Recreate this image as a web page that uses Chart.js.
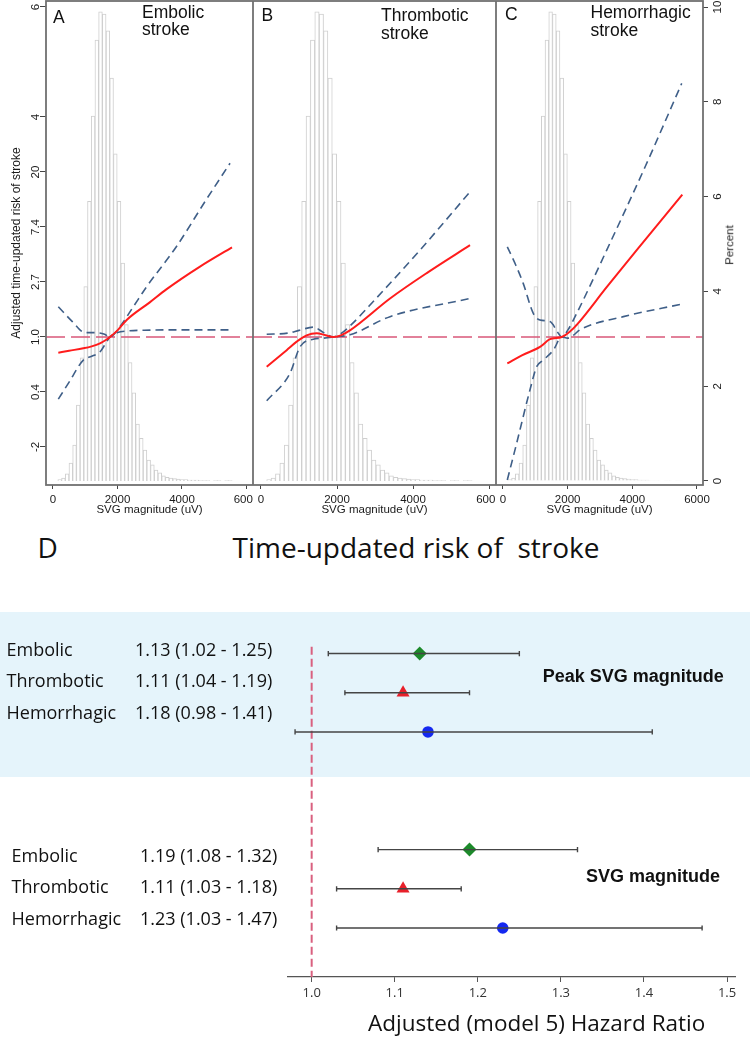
<!DOCTYPE html>
<html>
<head>
<meta charset="utf-8">
<script src="https://cdn.jsdelivr.net/npm/chart.js@4.4.0/dist/chart.umd.min.js"></script>
<style>
html,body{margin:0;padding:0;background:#ffffff;}
#root{position:relative;width:750px;height:1038px;overflow:hidden;background:#fff;}
.abs{position:absolute;}
canvas{display:block;}
.t{position:absolute;white-space:pre;line-height:1;color:#111;}
.ar{font-family:'Liberation Sans',Arial,sans-serif;}
.os{font-family:'Open Sans','Noto Sans',sans-serif;}
</style>
</head>
<body>
<div id="root">
  <div class="abs" style="left:0;top:612px;width:750px;height:165px;background:#e5f4fb;"></div>

  <canvas id="cA" class="abs" width="253" height="517" style="left:0;top:0;"></canvas>
  <canvas id="cB" class="abs" width="243" height="517" style="left:253px;top:0;"></canvas>
  <canvas id="cC" class="abs" width="254" height="517" style="left:496px;top:0;"></canvas>
  <canvas id="cD" class="abs" width="750" height="438" style="left:0;top:600px;"></canvas>

  <!-- panel titles -->
  <div class="t ar" style="left:53px;top:8.5px;font-size:17.5px;">A</div>
  <div class="t ar" style="left:142px;top:3.5px;font-size:17.5px;">Embolic</div>
  <div class="t ar" style="left:142px;top:21.2px;font-size:17.5px;">stroke</div>
  <div class="t ar" style="left:261.5px;top:6.9px;font-size:17.5px;">B</div>
  <div class="t ar" style="left:381px;top:6.9px;font-size:17.5px;">Thrombotic</div>
  <div class="t ar" style="left:381px;top:24.5px;font-size:17.5px;">stroke</div>
  <div class="t ar" style="left:505px;top:5.9px;font-size:17.5px;">C</div>
  <div class="t ar" style="left:590.5px;top:3.5px;font-size:17.5px;">Hemorrhagic</div>
  <div class="t ar" style="left:590.5px;top:21.9px;font-size:17.5px;">stroke</div>
  <div class="t ar" style="left:730px;top:245px;font-size:11.5px;color:#222;transform:translate(-50%,-50%) rotate(-90deg);">Percent</div>

  <!-- forest texts -->
  <div class="t os" style="left:37.5px;top:533px;font-size:28px;">D</div>
  <div class="t os" style="left:232.5px;top:533px;font-size:28px;">Time-updated risk of  stroke</div>
  <div id="forestText"></div>
  <div class="t ar" style="left:542.7px;top:666.5px;font-size:18px;font-weight:bold;">Peak SVG magnitude</div>
  <div class="t ar" style="left:586px;top:866.5px;font-size:18px;font-weight:bold;">SVG magnitude</div>
  <div class="t os" style="left:368px;top:1011.7px;font-size:22.5px;">Adjusted (model 5) Hazard Ratio</div>
</div>

<script>
// ================= DATA =================
// Panels A-C: x in SVG magnitude (uV); curve values are ln(hazard ratio) (axis is log-HR)
const X_TICKS = [0, 2000, 4000, 6000];
const HR_TICK_VALUES = [-2, -1, 0, 1, 2, 3, 4, 6];
const HR_TICK_LABELS = ['-2', '0.4', '1.0', '2.7', '7.4', '20', '4', '6'];
const PCT_TICKS = [0, 2, 4, 6, 8, 10];
const REF_LNHR = 0; // HR = 1.0

// Histogram of SVG magnitude (percent per bin), bin centers in uV
const HIST_BIN_CENTERS = [208, 323, 438, 553, 668, 783, 898, 1013, 1128, 1243, 1358, 1473, 1588, 1703, 1818, 1933,
  2048, 2163, 2278, 2393, 2508, 2623, 2738, 2853, 2968, 3083, 3198, 3313, 3428, 3543, 3658, 3773, 3888, 4003,
  4118, 4233, 4348, 4463, 4578, 4693, 4808, 4923, 5038, 5153, 5268, 5383, 5498];
const HIST_PERCENT = [0.03, 0.06, 0.15, 0.38, 0.76, 1.6, 2.6, 4.1, 5.9, 7.7, 9.3, 9.9, 9.85, 9.5, 8.5, 6.9,
  5.9, 4.6, 3.3, 2.5, 1.86, 1.2, 0.9, 0.65, 0.44, 0.34, 0.23, 0.17, 0.11, 0.08, 0.06, 0.05, 0.04, 0.03,
  0.03, 0.02, 0.02, 0.02, 0.01, 0.01, 0.01, 0, 0.01, 0.01, 0, 0.01, 0.01];

// Panel A - Embolic stroke
const A_FIT_X = [165, 500, 940, 1200, 1457, 1650, 1767, 2000, 2285, 3000, 3525, 4558, 5550];
const A_FIT_LNHR = [-0.285, -0.25, -0.206, -0.17, -0.115, -0.05, 0, 0.12, 0.31, 0.63, 0.87, 1.28, 1.63];
const A_UP_X = [165, 600, 1000, 1300, 1600, 1767, 2078, 2490, 2905, 3835, 4700, 5490];
const A_UP_LNHR = [0.55, 0.28, 0.08, 0.08, 0.05, 0, 0.19, 0.55, 0.915, 1.65, 2.45, 3.16];
const A_LO_X = [165, 500, 940, 1200, 1457, 1650, 1767, 2000, 2300, 3000, 4000, 5540];
const A_LO_LNHR = [-1.13, -0.82, -0.42, -0.35, -0.27, -0.1, 0, 0.08, 0.11, 0.125, 0.13, 0.13];

// Panel B - Thrombotic stroke
const B_FIT_X = [150, 675, 940, 1200, 1465, 1700, 1900, 2100, 2340, 3395, 4400, 5500];
const B_FIT_LNHR = [-0.54, -0.24, -0.085, 0.03, 0.07, 0.03, 0, 0.03, 0.12, 0.7, 1.18, 1.67];
const B_UP_X = [150, 700, 1000, 1376, 1650, 1900, 2100, 2340, 3000, 4184, 5526];
const B_UP_LNHR = [0.05, 0.07, 0.12, 0.18, 0.08, 0, 0.06, 0.2, 0.68, 1.58, 2.66];
const B_LO_X = [150, 763, 1026, 1376, 1650, 1900, 2340, 3395, 5500];
const B_LO_LNHR = [-1.16, -0.66, -0.18, -0.04, -0.02, 0, 0.04, 0.37, 0.70];

// Panel C - Hemorrhagic stroke
const C_FIT_X = [133, 600, 1144, 1454, 1815, 2072, 2280, 3200, 4135, 5546];
const C_FIT_LNHR = [-0.48, -0.33, -0.18, -0.04, 0, 0.1, 0.22, 0.9, 1.58, 2.59];
const C_UP_X = [133, 400, 628, 937, 1144, 1454, 1711, 1815, 2000, 2280, 3208, 4400, 5528];
const C_UP_LNHR = [1.64, 1.3, 0.97, 0.43, 0.31, 0.28, 0.07, 0, 0.12, 0.43, 1.58, 3.1, 4.61];
const C_LO_X = [133, 423, 835, 1041, 1247, 1556, 1815, 2000, 2150, 2382, 3723, 5550];
const C_LO_LNHR = [-2.6, -1.93, -0.96, -0.54, -0.42, -0.24, 0, -0.02, 0.02, 0.13, 0.37, 0.6];

// Panel D - forest plot
const FOREST_NAMES = ['Embolic', 'Thrombotic', 'Hemorrhagic'];
const PEAK_HR = [1.13, 1.11, 1.14];      // marker positions as drawn
const PEAK_LO = [1.02, 1.04, 0.98];
const PEAK_HI = [1.25, 1.19, 1.41];
const PEAK_TEXT = ['1.13 (1.02 - 1.25)', '1.11 (1.04 - 1.19)', '1.18 (0.98 - 1.41)'];
const SVG_HR = [1.19, 1.11, 1.23];
const SVG_LO = [1.08, 1.03, 1.03];
const SVG_HI = [1.32, 1.18, 1.47];
const SVG_TEXT = ['1.19 (1.08 - 1.32)', '1.11 (1.03 - 1.18)', '1.23 (1.03 - 1.47)'];
const PEAK_ROWS = [0, 1, 2];
const SVG_ROWS = [5, 6, 7];
const FOREST_TICKS = [1.0, 1.1, 1.2, 1.3, 1.4, 1.5];
const HR_REF = 1.0;

// ================= STYLE / LAYOUT =================
const SANS = "'Liberation Sans', Arial, sans-serif";
const OPEN = "'Open Sans', 'Noto Sans', sans-serif";
const CI_COLOR = '#3f5f88';
const FIT_COLOR = '#ff1c1c';
const REF_COLOR = '#d9587a';
const FRAME_COLOR = '#707070';
const HR_MIN = -2.691, HR_MAX = 6.109;
const PCT_MIN = -0.0844, PCT_MAX = 10.127;

const zip = (xs, ys) => xs.map((x, i) => ({x: x, y: ys[i]}));

const framePlugin = {
  id: 'frame',
  afterDatasetsDraw(chart) {
    const ctx = chart.ctx, a = chart.chartArea;
    ctx.save();
    ctx.strokeStyle = FRAME_COLOR;
    ctx.lineWidth = 1.8;
    ctx.strokeRect(a.left, a.top, a.right - a.left, a.bottom - a.top);
    ctx.restore();
  }
};

function panel(id, p) {
  return new Chart(document.getElementById(id), {
    type: 'bar',
    data: {
      datasets: [
        {type: 'line', data: zip(p.fitX, p.fitY), yAxisID: 'hr', borderColor: FIT_COLOR, borderWidth: 2,
         pointRadius: 0, cubicInterpolationMode: 'monotone', order: 1},
        {type: 'line', data: zip(p.upX, p.upY), yAxisID: 'hr', borderColor: CI_COLOR, borderWidth: 1.6,
         borderDash: [8, 5], pointRadius: 0, cubicInterpolationMode: 'monotone', order: 2},
        {type: 'line', data: zip(p.loX, p.loY), yAxisID: 'hr', borderColor: CI_COLOR, borderWidth: 1.6,
         borderDash: [8, 5], pointRadius: 0, cubicInterpolationMode: 'monotone', order: 3},
        {type: 'line', data: [{x: p.xmin, y: REF_LNHR}, {x: p.xmax, y: REF_LNHR}], yAxisID: 'hr',
         borderColor: REF_COLOR, borderWidth: 1.5, borderDash: [19, 6], pointRadius: 0, order: 4},
        {type: 'bar', data: zip(HIST_BIN_CENTERS, HIST_PERCENT), yAxisID: 'pct', backgroundColor: '#ffffff',
         borderColor: '#cfcfcf', borderWidth: 1, barPercentage: 1, categoryPercentage: 1, order: 5}
      ]
    },
    options: {
      responsive: false, animation: false, events: [], devicePixelRatio: 1,
      layout: {padding: {left: 0, right: 0, top: 1, bottom: 0}},
      plugins: {legend: {display: false}, tooltip: {enabled: false}},
      scales: {
        x: {
          type: 'linear', min: p.xmin, max: p.xmax, offset: false,
          grid: {display: true, drawOnChartArea: false, drawTicks: true, tickLength: 4, tickColor: '#444', offset: false},
          border: {display: false},
          ticks: {autoSkip: false, maxRotation: 0, padding: 4, color: '#1a1a1a',
                  font: {family: SANS, size: 11.5}, callback: (v) => String(v)},
          title: {display: true, text: 'SVG magnitude (uV)', color: '#1a1a1a',
                  font: {family: SANS, size: 11.5}, padding: {top: 0, bottom: 0}},
          afterBuildTicks: (s) => { s.ticks = X_TICKS.map(v => ({value: v})); },
          afterFit: (s) => { s.height = 32; s.paddingLeft = 0; s.paddingRight = 0; }
        },
        hr: {
          type: 'linear', position: 'left', display: !!p.showHr, min: HR_MIN, max: HR_MAX,
          grid: {display: true, drawOnChartArea: false, drawTicks: true, tickLength: 6, tickColor: '#444'},
          border: {display: false},
          ticks: {autoSkip: false, minRotation: 90, maxRotation: 90, crossAlign: 'center', padding: -3.5,
                  color: '#1a1a1a', font: {family: SANS, size: 11.5},
                  callback: (v, i) => HR_TICK_LABELS[i]},
          title: {display: true, text: 'Adjusted time-updated risk of stroke', color: '#1a1a1a',
                  font: {family: SANS, size: 12}, padding: {top: 9, bottom: 0}},
          afterBuildTicks: (s) => { s.ticks = HR_TICK_VALUES.map(v => ({value: v})); },
          afterFit: (s) => { if (p.showHr) s.width = 46; s.paddingTop = 0; s.paddingBottom = 0; }
        },
        pct: {
          type: 'linear', position: 'right', display: !!p.showPct, min: PCT_MIN, max: PCT_MAX,
          grid: {display: true, drawOnChartArea: false, drawTicks: true, tickLength: 5, tickColor: '#444'},
          border: {display: false},
          ticks: {autoSkip: false, minRotation: 90, maxRotation: 90, crossAlign: 'center', padding: 3,
                  color: '#1a1a1a', font: {family: SANS, size: 11.5}, callback: (v) => String(v)},
          afterBuildTicks: (s) => { s.ticks = PCT_TICKS.map(v => ({value: v})); },
          afterFit: (s) => { if (p.showPct) s.width = 47; s.paddingTop = 0; s.paddingBottom = 0; }
        }
      }
    },
    plugins: [framePlugin]
  });
}

panel('cA', {xmin: -217, xmax: 6202, showHr: true, showPct: false,
  fitX: A_FIT_X, fitY: A_FIT_LNHR, upX: A_UP_X, upY: A_UP_LNHR, loX: A_LO_X, loY: A_LO_LNHR});
panel('cB', {xmin: -210.5, xmax: 6184, showHr: false, showPct: false,
  fitX: B_FIT_X, fitY: B_FIT_LNHR, upX: B_UP_X, upY: B_UP_LNHR, loX: B_LO_X, loY: B_LO_LNHR});
panel('cC', {xmin: -216.5, xmax: 6186, showHr: false, showPct: true,
  fitX: C_FIT_X, fitY: C_FIT_LNHR, upX: C_UP_X, upY: C_UP_LNHR, loX: C_LO_X, loY: C_LO_LNHR});

// ---------- forest text ----------
(function () {
  const host = document.getElementById('forestText');
  const rows = [
    {names: FOREST_NAMES, texts: PEAK_TEXT, tops: [640, 671.3, 703.3], nameLeft: 6.5, valLeft: 135},
    {names: FOREST_NAMES, texts: SVG_TEXT, tops: [845.7, 877.3, 909], nameLeft: 11.5, valLeft: 140}
  ];
  rows.forEach(sec => {
    sec.names.forEach((n, i) => {
      const a = document.createElement('div');
      a.className = 't os'; a.style.left = sec.nameLeft + 'px'; a.style.top = sec.tops[i] + 'px';
      a.style.fontSize = '18px'; a.textContent = n; host.appendChild(a);
      const b = document.createElement('div');
      b.className = 't os'; b.style.left = sec.valLeft + 'px'; b.style.top = sec.tops[i] + 'px';
      b.style.fontSize = '18px'; b.textContent = sec.texts[i]; host.appendChild(b);
    });
  });
})();

// ---------- forest chart ----------
const FY_MIN = -1.175, FY_MAX = 8.25, REF_TOP = -0.175;
const MARK_STYLE = ['rectRot', 'triangle', 'circle'];
const MARK_COLOR = ['#1c8a2a', '#e8202a', '#1428f0'];
const MARK_RADIUS = [7, 7.5, 5.8];

const barDs = [];
PEAK_ROWS.forEach((r, i) => barDs.push({lo: PEAK_LO[i], hi: PEAK_HI[i], y: r}));
SVG_ROWS.forEach((r, i) => barDs.push({lo: SVG_LO[i], hi: SVG_HI[i], y: r}));

new Chart(document.getElementById('cD'), {
  type: 'scatter',
  data: {
    datasets: [
      ...barDs.map(b => ({type: 'line', data: [{x: b.lo, y: b.y}, {x: b.hi, y: b.y}], showLine: true,
        borderColor: '#454545', borderWidth: 1.4, pointStyle: 'line', rotation: 90, pointRotation: 90,
        pointRadius: 2.6, pointBorderColor: '#454545', pointBorderWidth: 1.4, order: 1})),
      {type: 'scatter', data: zip(PEAK_HR, PEAK_ROWS), pointStyle: MARK_STYLE, pointBackgroundColor: MARK_COLOR,
       pointBorderColor: MARK_COLOR, pointBorderWidth: 0, pointRadius: MARK_RADIUS, order: 5},
      {type: 'scatter', data: zip(SVG_HR, SVG_ROWS), pointStyle: MARK_STYLE, pointBackgroundColor: MARK_COLOR,
       pointBorderColor: MARK_COLOR, pointBorderWidth: 0, pointRadius: MARK_RADIUS, order: 5},
      {type: 'line', data: [{x: HR_REF, y: REF_TOP}, {x: HR_REF, y: FY_MAX}], showLine: true,
       borderColor: '#d9607f', borderWidth: 2, borderDash: [8, 4], pointRadius: 0, order: 6}
    ]
  },
  options: {
    responsive: false, animation: false, events: [], devicePixelRatio: 1,
    layout: {padding: {left: 288, right: 15, top: 0, bottom: 0}},
    plugins: {legend: {display: false}, tooltip: {enabled: false}},
    scales: {
      x: {
        type: 'linear', min: 0.9715, max: 1.5096,
        grid: {display: true, drawOnChartArea: false, drawTicks: true, tickLength: 5, tickColor: '#555', tickWidth: 1},
        border: {display: true, color: '#555', width: 1.2},
        ticks: {autoSkip: false, maxRotation: 0, padding: 3, color: '#333', font: {family: OPEN, size: 13},
                callback: (v) => Number(v).toFixed(1)},
        afterBuildTicks: (s) => { s.ticks = FOREST_TICKS.map(v => ({value: v})); },
        afterFit: (s) => { s.height = 61; s.paddingLeft = 0; s.paddingRight = 0; }
      },
      y: {type: 'linear', display: false, reverse: true, min: FY_MIN, max: FY_MAX}
    }
  }
});
</script>
</body>
</html>
